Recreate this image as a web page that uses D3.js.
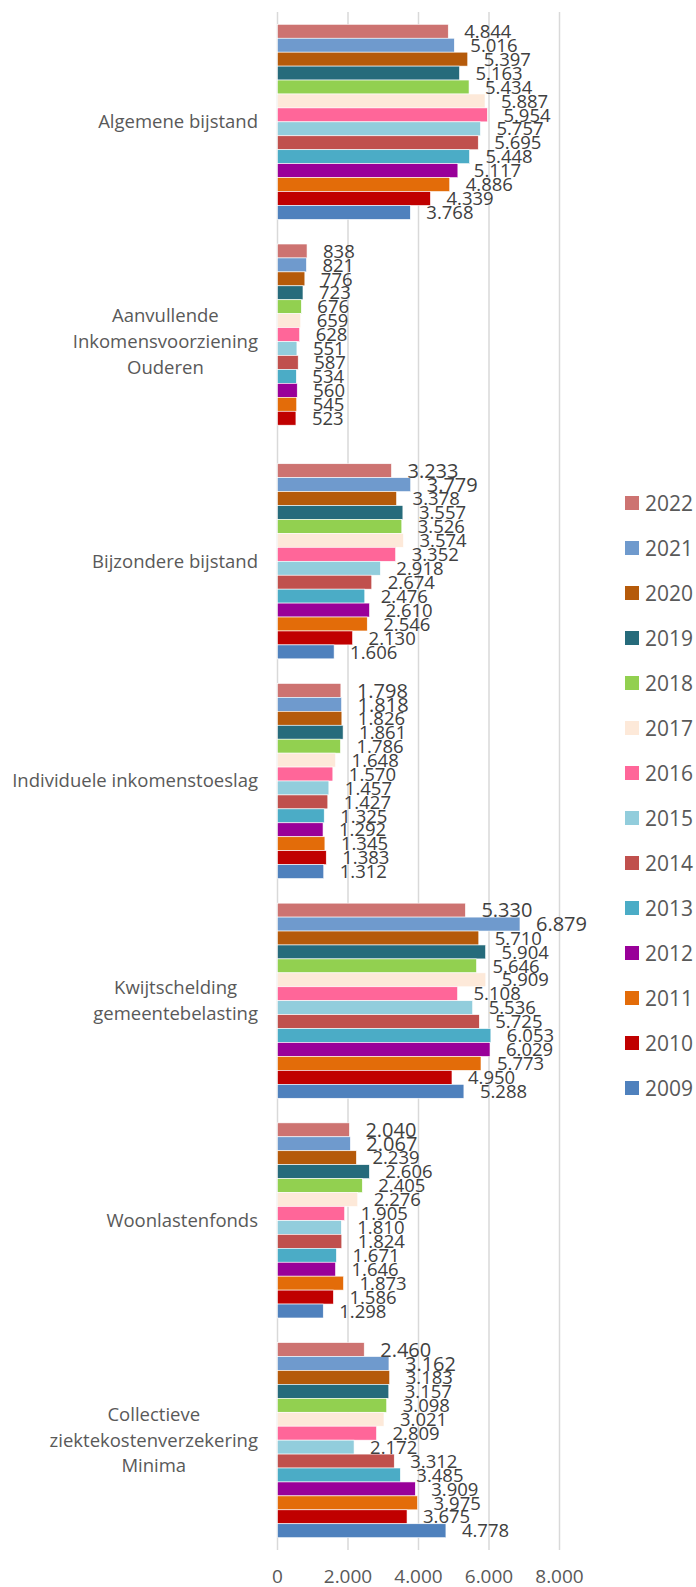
<!DOCTYPE html>
<html>
<head>
<meta charset="utf-8">
<script src="https://cdn.jsdelivr.net/npm/d3@7"></script>
<style>
  body { margin: 0; background: #fff; }
  svg { display: block; }
</style>
</head>
<body>
<div id="chart"></div>
<script>
let w = 696;
let h = 1587;

// categories, top to bottom
const categories = [
  ["Algemene bijstand"],
  ["Aanvullende", "Inkomensvoorziening", "Ouderen"],
  ["Bijzondere bijstand"],
  ["Individuele inkomenstoeslag"],
  ["Kwijtschelding", "gemeentebelasting"],
  ["Woonlastenfonds"],
  ["Collectieve", "ziektekostenverzekering", "Minima"]
];

// series, in the order the bars are stacked inside a group
const years = ["2022","2021","2020","2019","2018","2017","2016","2015","2014","2013","2012","2011","2010","2009"];
const colors = ["#CD7371","#6F9ACD","#B55A0A","#266B7B","#92D050","#FDE9D9","#FF6699","#92CDDC","#C0504D","#4BACC6","#990099","#E36C09","#C00000","#4F81BD"];

// values per category, same order as years (null = no value)
const algemeneBijstand = [4844, 5016, 5397, 5163, 5434, 5887, 5954, 5757, 5695, 5448, 5117, 4886, 4339, 3768];
const aio              = [838, 821, 776, 723, 676, 659, 628, 551, 587, 534, 560, 545, 523, null];
const bijzondereBijst  = [3233, 3779, 3378, 3557, 3526, 3574, 3352, 2918, 2674, 2476, 2610, 2546, 2130, 1606];
const indivToeslag     = [1798, 1818, 1826, 1861, 1786, 1648, 1570, 1457, 1427, 1325, 1292, 1345, 1383, 1312];
const kwijtschelding   = [5330, 6879, 5710, 5904, 5646, 5909, 5108, 5536, 5725, 6053, 6029, 5773, 4950, 5288];
const woonlastenfonds  = [2040, 2067, 2239, 2606, 2405, 2276, 1905, 1810, 1824, 1671, 1646, 1873, 1586, 1298];
const czm              = [2460, 3162, 3183, 3157, 3098, 3021, 2809, 2172, 3312, 3485, 3909, 3975, 3675, 4778];

const values = [algemeneBijstand, aio, bijzondereBijst, indivToeslag, kwijtschelding, woonlastenfonds, czm];

const xTicks = [0, 2000, 4000, 6000, 8000];

const nl = d3.formatLocale({decimal: ",", thousands: ".", grouping: [3], currency: ["€", ""]});
const fmt = nl.format(",d");

let rows = [];
values.forEach((vals, ci) => {
  vals.forEach((v, yi) => {
    if (v != null) rows.push({cat: ci, year: years[yi], value: v, color: colors[yi]});
  });
});

let svg = d3.select("#chart").append("svg")
  .attr("width", w)
  .attr("height", h);

const plotTop = 12, plotBottom = 1550;

let x = d3.scaleLinear().domain([0, 8000]).range([277.5, 559.5]);

let y0 = d3.scaleBand()
  .domain(d3.range(categories.length))
  .range([plotTop, plotBottom])
  .paddingInner(0.112)
  .paddingOuter(0.056);

let y1 = d3.scaleBand()
  .domain(years)
  .range([0, y0.bandwidth()]);

// gridlines
svg.append("g")
  .selectAll("line")
  .data(xTicks)
  .join("line")
    .attr("x1", d => x(d)).attr("x2", d => x(d))
    .attr("y1", plotTop).attr("y2", plotBottom)
    .attr("stroke", "#d9d9d9")
    .attr("stroke-width", 1.5);

// tick labels
svg.append("g")
  .selectAll("text")
  .data(xTicks)
  .join("text")
    .attr("x", d => x(d))
    .attr("y", 1576)
    .attr("dy", "0.35em")
    .attr("text-anchor", "middle")
    .attr("font-family", "Open Sans")
    .attr("font-size", 19)
    .attr("fill", "#595959")
    .text(d => fmt(d));

// bars
svg.append("g")
  .selectAll("rect")
  .data(rows)
  .join("rect")
    .attr("x", x(0))
    .attr("y", d => y0(d.cat) + y1(d.year))
    .attr("width", d => x(d.value) - x(0))
    .attr("height", y1.bandwidth())
    .attr("fill", d => d.color)
    .attr("stroke", "#fff")
    .attr("stroke-width", 0.6);

// value labels
svg.append("g")
  .selectAll("text")
  .data(rows)
  .join("text")
    .attr("x", d => x(d.value) + 16)
    .attr("y", d => y0(d.cat) + y1(d.year) + y1.bandwidth() / 2)
    .attr("dy", "0.36em")
    .attr("font-family", "Open Sans")
    .attr("font-size", d => (d.year == "2022" || d.year == "2021") && d.cat >= 2 ? 20 : 18.5)
    .attr("fill", "#404040")
    .text(d => fmt(d.value));

// category labels: right aligned block, lines centered within it
let catG = svg.append("g")
  .attr("font-family", "Open Sans")
  .attr("font-size", 18.5)
  .attr("fill", "#595959");

categories.forEach((lines, ci) => {
  let t = catG.append("text").attr("text-anchor", "middle");
  let cy = y0(ci) + y0.bandwidth() / 2;
  let lh = 25.7;
  lines.forEach((line, li) => {
    t.append("tspan")
      .attr("y", cy + (li - (lines.length - 1) / 2) * lh)
      .attr("dy", "0.35em")
      .text(line);
  });
  let widest = d3.max(t.selectAll("tspan").nodes(), n => n.getComputedTextLength());
  t.selectAll("tspan").attr("x", 258 - widest / 2);
});

// legend
let legend = svg.append("g")
  .selectAll("g")
  .data(years)
  .join("g")
    .attr("transform", (d, i) => "translate(625," + (503 + i * 45) + ")");

legend.append("rect")
  .attr("x", 0).attr("y", -7)
  .attr("width", 14).attr("height", 14)
  .attr("fill", (d, i) => colors[i]);

legend.append("text")
  .attr("x", 20)
  .attr("dy", "0.36em")
  .attr("font-family", "Open Sans")
  .attr("font-size", 21)
  .attr("fill", "#595959")
  .text(d => d);
</script>
</body>
</html>
